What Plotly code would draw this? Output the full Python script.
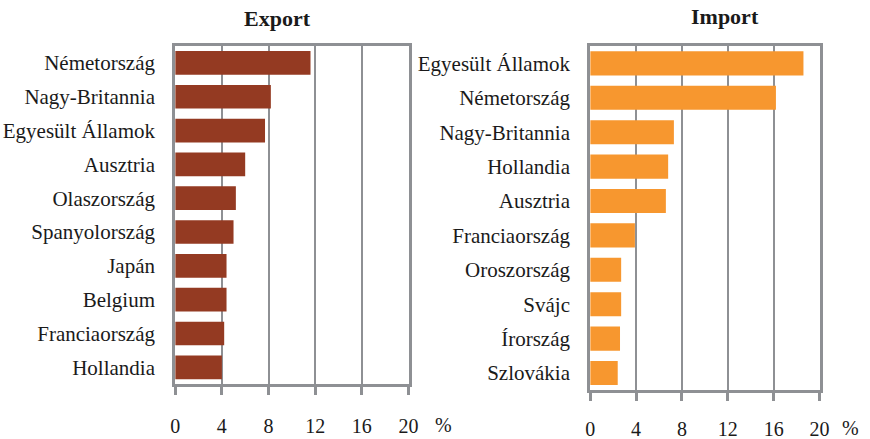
import plotly.graph_objects as go

export_countries = ["Németország", "Nagy-Britannia", "Egyesült Államok", "Ausztria", "Olaszország",
                    "Spanyolország", "Japán", "Belgium", "Franciaország", "Hollandia"]
export_values = [11.6, 8.2, 7.7, 6.0, 5.2, 5.0, 4.4, 4.4, 4.2, 4.0]

import_countries = ["Egyesült Államok", "Németország", "Nagy-Britannia", "Hollandia", "Ausztria",
                    "Franciaország", "Oroszország", "Svájc", "Írország", "Szlovákia"]
import_values = [18.6, 16.2, 7.3, 6.8, 6.6, 3.9, 2.7, 2.7, 2.6, 2.4]

x_ticks = [0, 4, 8, 12, 16, 20]
titles = ["Export", "Import"]
unit = "%"

W, H = 870, 439
FONT = "Liberation Serif, Times New Roman, serif"
GRAY = "#8E9094"
TXT = "#1a1a1a"

fig = go.Figure()
fig.add_trace(go.Bar(x=export_values, y=export_countries, orientation="h",
                     marker=dict(color="#943A22", line=dict(width=0)),
                     xaxis="x", yaxis="y", showlegend=False, hoverinfo="skip"))
fig.add_trace(go.Bar(x=import_values, y=import_countries, orientation="h",
                     marker=dict(color="#F7972F", line=dict(width=0)),
                     xaxis="x2", yaxis="y2", showlegend=False, hoverinfo="skip"))


def xax(domain, anchor, standoff):
    return dict(domain=domain, anchor=anchor, range=[0, 20], tickvals=x_ticks,
                showgrid=True, gridcolor=GRAY, gridwidth=2,
                showline=True, linecolor=GRAY, linewidth=3, mirror=True,
                ticks="outside", ticklen=8, tickwidth=3, tickcolor=GRAY,
                ticklabelstandoff=standoff, zeroline=False, automargin=False,
                fixedrange=True,
                tickfont=dict(family=FONT, size=20, color=TXT))


def yax(domain, anchor, cats):
    return dict(domain=domain, anchor=anchor, categoryorder="array", categoryarray=cats,
                autorange="reversed", showgrid=False, zeroline=False, automargin=False,
                showline=True, linecolor=GRAY, linewidth=3, mirror=True,
                ticks="", ticklabelstandoff=13, fixedrange=True,
                tickfont=dict(family=FONT, size=21, color=TXT))


fig.update_layout(
    template="none",
    width=W, height=H,
    margin=dict(l=0, r=0, t=0, b=0, autoexpand=False),
    font=dict(family=FONT, size=20, color=TXT),
    paper_bgcolor="white", plot_bgcolor="white",
    bargap=0.3,
    xaxis=xax([175.2 / W, 408.5 / W], "y", 14),
    yaxis=yax([1 - 384.2 / H, 1 - 46 / H], "x", export_countries),
    xaxis2=xax([590.2 / W, 819.5 / W], "y2", 11),
    yaxis2=yax([1 - 390.2 / H, 1 - 46.2 / H], "x2", import_countries),
    annotations=[
        dict(text="<b>" + titles[0] + "</b>", x=277 / W, y=1 - 19 / H, xref="paper", yref="paper",
             xanchor="center", yanchor="middle",
             showarrow=False, font=dict(family=FONT, size=22, color=TXT)),
        dict(text="<b>" + titles[1] + "</b>", x=725 / W, y=1 - 17 / H, xref="paper", yref="paper",
             xanchor="center", yanchor="middle",
             showarrow=False, font=dict(family=FONT, size=22, color=TXT)),
        dict(text=unit, x=443 / W, y=1 - 425 / H, xref="paper", yref="paper",
             xanchor="center", yanchor="middle",
             showarrow=False, font=dict(family=FONT, size=20, color=TXT)),
        dict(text=unit, x=850 / W, y=1 - 428 / H, xref="paper", yref="paper",
             xanchor="center", yanchor="middle",
             showarrow=False, font=dict(family=FONT, size=20, color=TXT)),
    ],
)

fig.write_html("out.html", config={"displayModeBar": False, "staticPlot": True},
               post_script="document.body.style.margin='0px';")
